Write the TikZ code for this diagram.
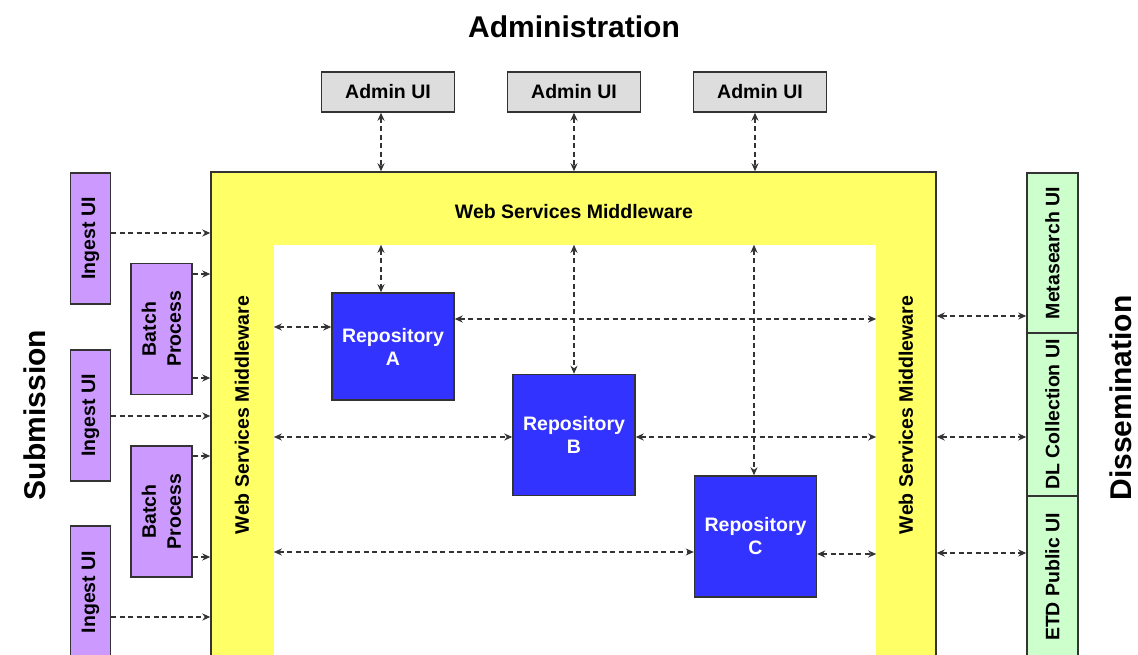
\documentclass[tikz,border=0pt]{standalone}
\usepackage{fontspec}
\setmainfont{Liberation Sans}
\usetikzlibrary{arrows.meta}
\definecolor{mwyellow}{HTML}{FFFF66}
\definecolor{ingpurple}{HTML}{CC99FF}
\definecolor{disgreen}{HTML}{CCFFCC}
\definecolor{admgray}{HTML}{DDDDDD}
\definecolor{repblue}{HTML}{3333FF}
\definecolor{edge}{HTML}{333333}
\tikzset{
  txt/.style={font=\bfseries\fontsize{19.5}{24}\selectfont},
  bigtitle/.style={font=\bfseries\fontsize{30}{36}\selectfont, inner sep=0pt},
  boxbase/.style={draw=edge, line width=1.4pt, inner sep=0pt, txt, align=center},
  adminbox/.style={boxbase, fill=admgray, minimum width=133pt, minimum height=40pt},
  ingestbox/.style={boxbase, fill=ingpurple, minimum width=131pt, minimum height=40pt},
  batchbox/.style={boxbase, fill=ingpurple, minimum width=131pt, minimum height=61pt, font=\bfseries\fontsize{19.5}{25}\selectfont},
  dissbox/.style={boxbase, fill=disgreen, minimum height=51pt},
  repobox/.style={boxbase, fill=repblue, text=white, minimum width=122pt, minimum height=121pt, font=\bfseries\fontsize{19.5}{23}\selectfont},
  conn/.style={draw=edge, line width=1.3pt, dash pattern=on 5pt off 3.5pt},
  oneway/.style={conn, -{Stealth[length=8pt,width=7pt,inset=2.5pt]}},
  twoway/.style={conn, {Stealth[length=8pt,width=7pt,inset=2.5pt]}-{Stealth[length=8pt,width=7pt,inset=2.5pt]}},
}
\begin{document}
\begin{tikzpicture}[x=1pt,y=-1pt]
\useasboundingbox (0,0) rectangle (1138,655);
\clip (0,0) rectangle (1138,655);

% titles
\node[bigtitle] (tadm) at (574,27) {Administration};
\node[bigtitle, rotate=90] (tsub) at (35,415) {Submission};
\node[bigtitle, rotate=90] (tdis) at (1121,398) {Dissemination};

% middleware frame
\node[draw=edge, line width=1.4pt, fill=mwyellow, minimum width=725pt, minimum height=493pt, inner sep=0pt] (mw) at (573.5,418.5) {};
\node[fill=white, minimum width=602pt, minimum height=420pt, inner sep=0pt] (inner) at (575,455) {};
\node[txt] (mwtop) at (574,212) {Web Services Middleware};
\node[txt, rotate=90] (mwleft) at (242,415) {Web Services Middleware};
\node[txt, rotate=90] (mwright) at (906,415) {Web Services Middleware};

% admin
\node[adminbox] (a1) at (388,92) {Admin UI};
\node[adminbox] (a2) at (574,92) {Admin UI};
\node[adminbox] (a3) at (760,92) {Admin UI};

% repositories
\node[repobox, minimum height=107pt] (ra) at (393,346.5) {Repository\\A};
\node[repobox] (rb) at (574,435) {Repository\\B};
\node[repobox] (rc) at (755.5,536.5) {Repository\\C};

% submission side
\node[ingestbox, rotate=90] (i1) at (90.5,238.5) {Ingest UI};
\node[ingestbox, rotate=90] (i2) at (90.5,415.5) {Ingest UI};
\node[ingestbox, rotate=90, minimum width=132pt] (i3) at (90.5,592) {Ingest UI};
\node[batchbox, rotate=90] (b1) at (161.5,329) {Batch\\Process};
\node[batchbox, rotate=90] (b2) at (161.5,511.5) {Batch\\Process};

% dissemination side
\node[dissbox, rotate=90, minimum width=160pt] (d1) at (1052.5,253) {Metasearch UI};
\node[dissbox, rotate=90, minimum width=163pt] (d2) at (1052.5,414.5) {DL Collection UI};
\node[dissbox, rotate=90, minimum width=162pt] (d3) at (1052.5,577) {ETD Public UI};

% helper coordinates
\coordinate (xa) at (381,0);
\coordinate (xb) at (574,0);
\coordinate (xc) at (754,0);
\coordinate (xa3) at (755,0);
\coordinate (ya) at (0,327);
\coordinate (yar) at (0,319);
\coordinate (yb) at (0,437);
\coordinate (yc) at (0,552);
\coordinate (ycr) at (0,554);
\coordinate (ys1) at (0,233);
\coordinate (ys2) at (0,274);
\coordinate (ys3) at (0,378);
\coordinate (ys4) at (0,416);
\coordinate (ys5) at (0,456);
\coordinate (ys6) at (0,557);
\coordinate (ys7) at (0,617);
\coordinate (yd1) at (0,316);
\coordinate (yd2) at (0,437);
\coordinate (yd3) at (0,553);

% admin connectors
\draw[twoway] (a1.south -| xa) -- (mw.north -| xa);
\draw[twoway] (a2.south) -- (mw.north -| a2.south);
\draw[twoway] (a3.south -| xa3) -- (mw.north -| xa3);

% inner vertical connectors
\draw[twoway] (inner.north -| xa) -- (ra.north -| xa);
\draw[twoway] (inner.north -| xb) -- (rb.north -| xb);
\draw[twoway] (inner.north -| xc) -- (rc.north -| xc);

% inner horizontal connectors
\draw[twoway] (inner.west |- ya) -- (ra.west |- ya);
\draw[twoway] (ra.east |- yar) -- (inner.east |- yar);
\draw[twoway] (inner.west |- yb) -- (rb.west |- yb);
\draw[twoway] (rb.east |- yb) -- (inner.east |- yb);
\draw[twoway] (inner.west |- yc) -- (rc.west |- yc);
\draw[twoway] (rc.east |- ycr) -- (inner.east |- ycr);

% submission connectors
\draw[oneway] (i1.south |- ys1) -- (mw.west |- ys1);
\draw[oneway] (b1.south |- ys2) -- (mw.west |- ys2);
\draw[oneway] (b1.south |- ys3) -- (mw.west |- ys3);
\draw[oneway] (i2.south |- ys4) -- (mw.west |- ys4);
\draw[oneway] (b2.south |- ys5) -- (mw.west |- ys5);
\draw[oneway] (b2.south |- ys6) -- (mw.west |- ys6);
\draw[oneway] (i3.south |- ys7) -- (mw.west |- ys7);

% dissemination connectors
\draw[twoway] (mw.east |- yd1) -- (d1.north |- yd1);
\draw[twoway] (mw.east |- yd2) -- (d2.north |- yd2);
\draw[twoway] (mw.east |- yd3) -- (d3.north |- yd3);
\end{tikzpicture}
\end{document}
